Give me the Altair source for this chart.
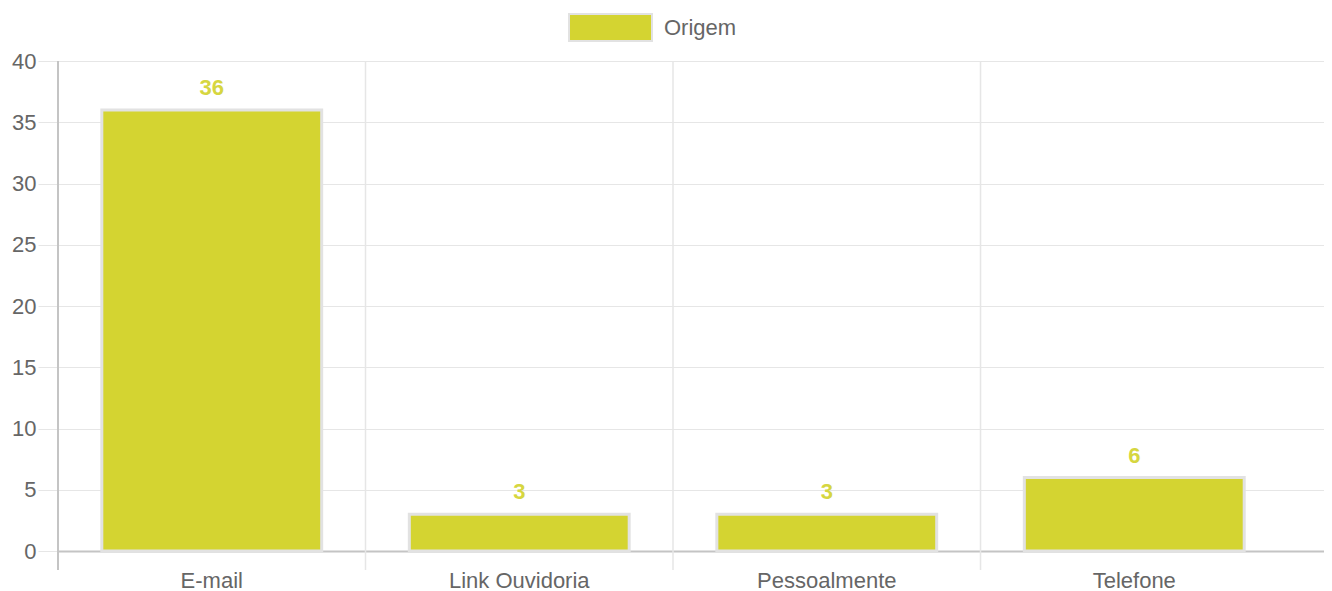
import altair as alt
import pandas as pd

categories = ["E-mail", "Link Ouvidoria", "Pessoalmente", "Telefone"]
values = [36, 3, 3, 6]
series = ["Origem"]
y_ticks = [0, 5, 10, 15, 20, 25, 30, 35, 40]

BAR = "#d4d431"
FONT = "Liberation Sans"
W, H = 1266, 490

df = pd.DataFrame({"cat": categories, "val": values, "serie": series * len(categories)})
first = pd.DataFrame({"cat": categories[:1]})
rest = pd.DataFrame({"cat": categories[1:]})

xscale = alt.Scale(domain=categories, paddingInner=0, paddingOuter=0.0585, align=0)
yscale = alt.Scale(domain=[0, 40], nice=False)

bars = alt.Chart(df).mark_bar(
    width=alt.RelativeBandSize(0.715), stroke="#e2e2e2", strokeWidth=3
).encode(
    x=alt.X("cat:N", scale=xscale, sort=categories,
            axis=alt.Axis(title=None, ticks=False, labelPadding=29, labelAngle=0,
                          bandPosition=0.5, labelAlign="center",
                          domain=True, domainColor="#c4c4c4", domainWidth=2,
                          grid=False, labelFontSize=22, labelColor="#666666",
                          labelFont=FONT)),
    y=alt.Y("val:Q", scale=yscale,
            axis=alt.Axis(title=None, values=y_ticks, tickSize=20, tickColor="#e6e6e6",
                          labelPadding=2, labelFontSize=22, labelColor="#666666",
                          labelFont=FONT, grid=True, gridColor="#e6e6e6",
                          domain=False)),
    color=alt.Color("serie:N", scale=alt.Scale(domain=series, range=[BAR]),
                    legend=alt.Legend(title=None, orient="none", legendX=510, legendY=-76,
                                      symbolType="M-1,-0.325H1V0.325H-1Z", symbolSize=6889,
                                      symbolStrokeColor="#e2e2e2", symbolStrokeWidth=2,
                                      symbolOpacity=1, labelFontSize=22, labelColor="#666666",
                                      labelFont=FONT, labelOffset=11)),
)

labels = alt.Chart(df).mark_text(
    baseline="bottom", dy=-10, fontSize=22, fontWeight="bold", color="#d6d640", font=FONT
).encode(
    x=alt.X("cat:N", scale=xscale, sort=categories),
    y=alt.Y("val:Q", scale=yscale),
    text="val:Q",
)

vgrid = alt.Chart(rest).mark_rule(color="#e6e6e6", strokeWidth=1.5).encode(
    x=alt.X("cat:N", scale=xscale, sort=categories, bandPosition=0),
    y=alt.value(0), y2=alt.value(H + 19),
)
left_axis = alt.Chart(first).mark_rule(color="#c4c4c4", strokeWidth=2).encode(
    x=alt.X("cat:N", scale=xscale, sort=categories, bandPosition=0),
    y=alt.value(0), y2=alt.value(H + 19),
)

chart = alt.layer(vgrid, bars, left_axis, labels).properties(
    width=W, height=H,
    autosize=alt.AutoSizeParams(type="none"),
    padding={"left": 50, "top": 53, "right": 0, "bottom": 42},
).configure_view(stroke=None)

chart.save("out.html", embed_options={"renderer": "svg", "actions": False})
